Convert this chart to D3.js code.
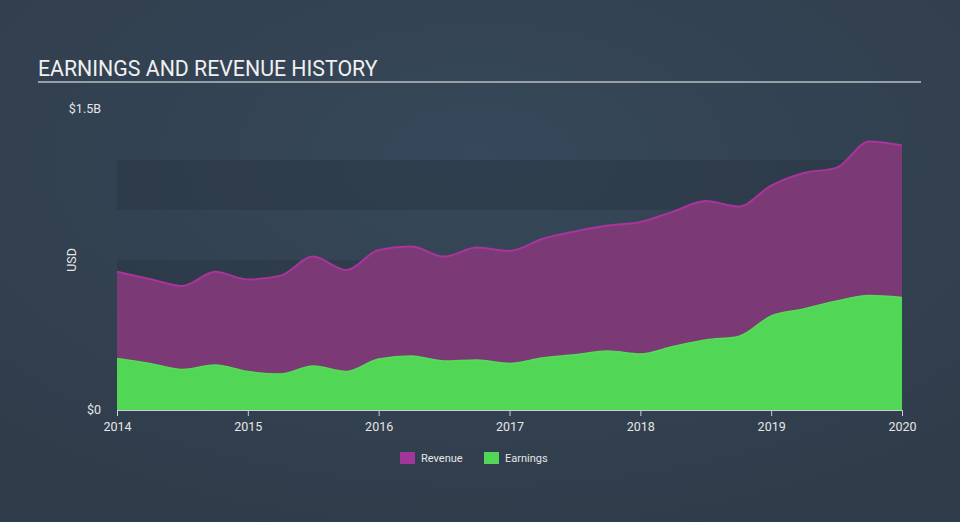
<!DOCTYPE html>
<html><head><meta charset="utf-8">
<script src="https://cdn.jsdelivr.net/npm/d3@7"></script>
<style>html,body{margin:0;padding:0;background:#333f4e;}svg{display:block;font-family:Roboto,"Noto Sans",sans-serif;}</style>
</head><body>
<svg id="c" width="960" height="522"></svg>
<script>
const quarters = d3.range(25).map(k => 2014 + k * 0.25);
const revenue = [691,655,620,691,653,672,767,700,800,817,767,812,795,855,893,922,940,992,1045,1017,1122,1185,1212,1342,1322];
const earnings = [258,233,203,225,192,180,220,192,255,270,245,250,233,260,276,295,280,317,350,368,470,505,545,572,563];
const yearTicks = [2014,2015,2016,2017,2018,2019,2020];
const yTickLabels = ["$0","$1.5B"];
const seriesNames = ["Revenue","Earnings"];
const colors = {Revenue:"#a0359a", Earnings:"#52d655"};

const svg = d3.select("#c");
const defs = svg.append("defs");
const rg = defs.append("radialGradient").attr("id","bg").attr("cx","50%").attr("cy","30%").attr("r","75%");
rg.append("stop").attr("offset","0%").attr("stop-color","#36485a");
rg.append("stop").attr("offset","100%").attr("stop-color","#303c4a");
svg.append("rect").attr("width",960).attr("height",522).attr("fill","url(#bg)");

const x = d3.scaleLinear().domain([2014,2020]).range([117,902]);
const y = d3.scaleLinear().domain([0,1500]).range([410,110]);

// bands
[[1000,1250],[500,750],[0,250]].forEach(b=>{
  svg.append("rect").attr("x",117).attr("width",785).attr("y",y(b[1])).attr("height",y(b[0])-y(b[1]))
    .attr("fill","#26323f").attr("opacity",0.4);
});

// title
svg.append("text").attr("x",38).attr("y",76).attr("fill","#f0f0f0").attr("font-size",21.3).text("EARNINGS AND REVENUE HISTORY");
svg.append("line").attr("x1",38).attr("x2",921).attr("y1",82).attr("y2",82).attr("stroke","#b8bec6").attr("stroke-width",1.5);

const data = quarters.map((q,i)=>({q, r:revenue[i], e:earnings[i]}));
const curve = d3.curveMonotoneX;
const areaR = d3.area().x(d=>x(d.q)).y0(y(0)).y1(d=>y(d.r)).curve(curve);
const lineR = d3.line().x(d=>x(d.q)).y(d=>y(d.r)).curve(curve);
const areaE = d3.area().x(d=>x(d.q)).y0(y(0)).y1(d=>y(d.e)).curve(curve);
const lineE = d3.line().x(d=>x(d.q)).y(d=>y(d.e)).curve(curve);

svg.append("path").datum(data).attr("d",areaR).attr("fill","#7b3a76");
svg.append("path").datum(data).attr("d",lineR).attr("fill","none").attr("stroke","#a8349c").attr("stroke-width",2);
svg.append("path").datum(data).attr("d",areaE).attr("fill","#52d655");
svg.append("path").datum(data).attr("d",lineE).attr("fill","none").attr("stroke","#55dd58").attr("stroke-width",1.5);

// x axis
const xAxis = d3.axisBottom(x).tickValues(yearTicks).tickFormat(d3.format("d")).tickSize(6).tickSizeOuter(0);
const gx = svg.append("g").attr("transform","translate(0,410)").call(xAxis);
gx.select(".domain").attr("stroke","#c9ced4");
gx.selectAll(".tick line").attr("stroke","#c9ced4");
gx.selectAll("text").attr("fill","#e6e6e6").attr("font-size",12.5).attr("dy","0.95em").attr("font-family","Roboto,sans-serif");

// y labels
svg.append("text").attr("x",101).attr("y",y(1500)+3).attr("text-anchor","end").attr("fill","#e6e6e6").attr("font-size",12.5).text(yTickLabels[1]);
svg.append("text").attr("x",101).attr("y",y(0)+4).attr("text-anchor","end").attr("fill","#e6e6e6").attr("font-size",12.5).text(yTickLabels[0]);
svg.append("text").attr("transform","translate(76,260) rotate(-90)").attr("text-anchor","middle").attr("fill","#e6e6e6").attr("font-size",12.5).text("USD");

// legend
const lg = svg.append("g");
const lx = [400,484];
seriesNames.forEach((n,i)=>{
  lg.append("rect").attr("x",lx[i]).attr("y",452).attr("width",15).attr("height",12).attr("fill",colors[n]);
  lg.append("text").attr("x",lx[i]+21).attr("y",462).attr("fill","#e6e6e6").attr("font-size",11).text(n);
});
</script>
</body></html>
